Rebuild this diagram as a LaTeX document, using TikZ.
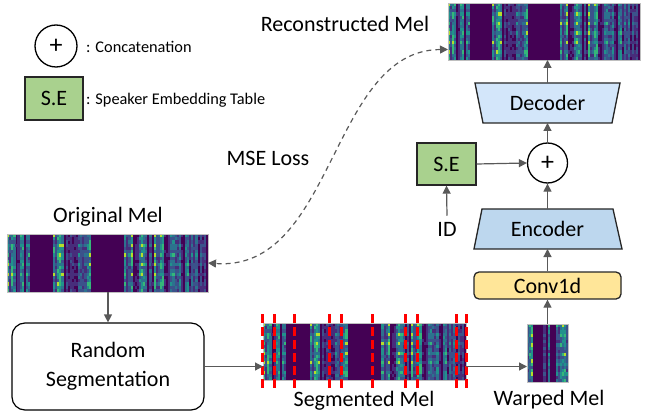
\documentclass[tikz,border=0pt]{standalone}
\usepackage{fontspec}
\setmainfont{Carlito}
\usetikzlibrary{arrows.meta}
\definecolor{vir0}{HTML}{440154}
\definecolor{vir1}{HTML}{472D7B}
\definecolor{vir2}{HTML}{3B528B}
\definecolor{vir3}{HTML}{2C728E}
\definecolor{vir4}{HTML}{21918C}
\definecolor{vir5}{HTML}{35B779}
\definecolor{vir6}{HTML}{B5DE2B}
\definecolor{arrgray}{HTML}{595959}
\definecolor{decfill}{HTML}{D3E6FA}
\definecolor{encfill}{HTML}{BDD7EE}
\definecolor{sefill}{HTML}{A9D18E}
\definecolor{convfill}{HTML}{FFE699}
% #1 name, #2 x0, #3 y0, #4 w, #5 h, #6 columns, #7 activity profile of \mxx, #8 seed
\newcommand\melpic[8]{%
  \node[minimum width=#4pt, minimum height=#5pt, inner sep=0pt, outer sep=0pt] (#1) at ({#2+#4/2},{#3+#5/2}) {};
  \fill[vir0] (#2,#3) rectangle ++(#4,#5);
  \pgfmathsetmacro\mcw{#4/#6}
  \pgfmathsetmacro\mrh{#5/18}
  \foreach \mi in {1,...,#6} {
    \pgfmathsetmacro\mxx{(\mi-0.5)/#6}
    \pgfmathsetmacro\mreg{#7}
    \pgfmathsetmacro\mq{abs(frac(sin(\mi*53.7+#8*7.3)*3571.3))}
    \pgfmathsetmacro\mcolv{\mreg*(0.1+0.9*\mq*(0.4+0.6*\mq))}
    \foreach \mj in {1,...,18} {
      \pgfmathtruncatemacro\mm{mod(\mj,3)}
      \ifnum\mm=1 \def\mh{1.1}\else\def\mh{0.85}\fi
      \pgfmathsetmacro\mr{abs(frac(sin(\mi*37.13+\mj*91.71+#8*3.1)*4373.5+sin(\mj*17.3+\mi*5.77)*1213.7))}
      \pgfmathtruncatemacro\mk{min(6, 7.6*\mcolv*(0.45+0.55*\mr)*\mh)}
      \ifnum\mk>0
        \fill[vir\mk] ({#2+(\mi-1)*\mcw},{#3+(\mj-1)*\mrh}) rectangle ++({\mcw+0.15},{\mrh+0.15});
      \fi
    }
  }
  \draw[black!25, line width=0.4pt] (#2,#3) rectangle ++(#4,#5);
}
\tikzset{
  lbl/.style={font=\fontsize{22}{26}\selectfont, inner sep=2pt},
  leg/.style={font=\fontsize{16.3}{19}\selectfont, anchor=west, inner sep=0pt},
  arr/.style={draw=arrgray, line width=1.2pt, -{Triangle[length=8pt,width=8pt]}},
  dasharr/.style={draw=arrgray, line width=1.2pt, dash pattern=on 5pt off 4pt, {Triangle[length=8pt,width=8pt]}-{Triangle[length=8pt,width=8pt]}},
  trap/.style={draw=black!85, line width=1.3pt},
  sebox/.style={draw=black!85, line width=1.3pt, fill=sefill, minimum width=59pt, minimum height=42pt, inner sep=0pt, font=\fontsize{22}{26}\selectfont},
  plusnode/.style={draw=black, line width=1.3pt, circle, fill=white, minimum size=40pt, inner sep=0pt, font=\fontsize{26}{26}\selectfont},
  segcut/.style={draw=red, line width=3pt, dash pattern=on 9pt off 4pt},
  anchorbox/.style={minimum width=#1, inner sep=0pt, outer sep=0pt, minimum height=40pt},
}
\begin{document}
\begin{tikzpicture}[x=1pt, y=-1pt]
\useasboundingbox (0,0) rectangle (645,414);
% legend
\node[plusnode, minimum size=42pt] (legplus) at (56,46) {+};
\node[leg] (legconcat) at (86,47) {: Concatenation};
\node[sebox, minimum width=58pt, minimum height=43pt] (legse) at (54,98.5) {S.E};
\node[leg] (legsetext) at (86,100) {: Speaker Embedding Table};
% mels
\melpic{recon}{448}{3}{192}{57}{96}{(\mxx<0.125)+(\mxx>0.225)*(\mxx<0.42)+(\mxx>0.585)}{3}
\melpic{orig}{7}{234}{201}{58}{96}{(\mxx<0.125)+(\mxx>0.225)*(\mxx<0.42)+(\mxx>0.585)}{3}
\melpic{segmel}{263}{323}{203}{57}{96}{(\mxx<0.125)+(\mxx>0.225)*(\mxx<0.42)+(\mxx>0.585)}{3}
\melpic{warp}{527}{324}{41}{58}{20}{(\mxx<0.16)+(\mxx>0.42)*(\mxx<0.56)+(\mxx>0.68)}{7}
\foreach \cx in {262,274,294,329,341,372,405,417,456,466}
  \draw[segcut] (\cx,314) -- (\cx,390);
% labels
\node[lbl] (reconlbl) at (345,24) {Reconstructed Mel};
\node[lbl] (origlbl) at (108,217) {Original Mel};
\node[lbl] (mselbl) at (268,158) {MSE Loss};
\node[lbl] (seglbl) at (364,401) {Segmented Mel};
\node[lbl] (warplbl) at (549,400) {Warped Mel};
% decoder / encoder trapezoids
\draw[trap, fill=decfill] (475,83) -- (620,83) -- (612,123) -- (483,123) -- cycle;
\node[anchorbox=146pt, font=\fontsize{22}{26}\selectfont] (dec) at (547.5,103) {Decoder};
\draw[trap, fill=encfill] (482,209) -- (613,209) -- (622,249) -- (474,249) -- cycle;
\node[anchorbox=148pt, font=\fontsize{22}{26}\selectfont] (enc) at (547.5,229) {Encoder};
\node[draw=black!85, line width=1.3pt, fill=convfill, rounded corners=5pt, minimum width=147pt, minimum height=27pt, inner sep=0pt, font=\fontsize{22}{26}\selectfont] (conv) at (547.5,285.5) {Conv1d};
\node[plusnode] (plus) at (547.5,163) {+};
\node[sebox] (se) at (446.5,164) {S.E};
\node[lbl, inner sep=6pt] (id) at (447,229) {ID};
\node[draw=black, line width=1.2pt, rounded corners=13pt, minimum width=192pt, minimum height=87pt, align=center, font=\fontsize{22}{29}\selectfont] (rs) at (108,366.5) {Random\\Segmentation};
% connectors
\draw[arr] (dec.north) -- (recon.south -| dec.north);
\draw[arr] (plus.north) -- (dec.south);
\draw[arr] (se.east) -- (plus.west);
\draw[arr] (id.north) -- (se.south);
\draw[arr] (enc.north) -- (plus.south);
\draw[arr] (conv.north) -- (enc.south);
\draw[arr] (warp.north -| conv.south) -- (conv.south);
\draw[arr] (orig.south -| rs.north) -- (rs.north);
\draw[arr] (rs.east) -- (rs.east -| segmel.west);
\draw[arr] ([yshift=-15pt]segmel.east) -- ([yshift=-15pt]segmel.east -| warp.west);
\coordinate (rtip) at ([yshift=-18pt]recon.west);
\coordinate (cc1) at (330,50);
\coordinate (cc2) at (335,272);
\draw[dasharr] (rtip) .. controls (cc1) and (cc2) .. (orig.east);
\end{tikzpicture}
\end{document}
